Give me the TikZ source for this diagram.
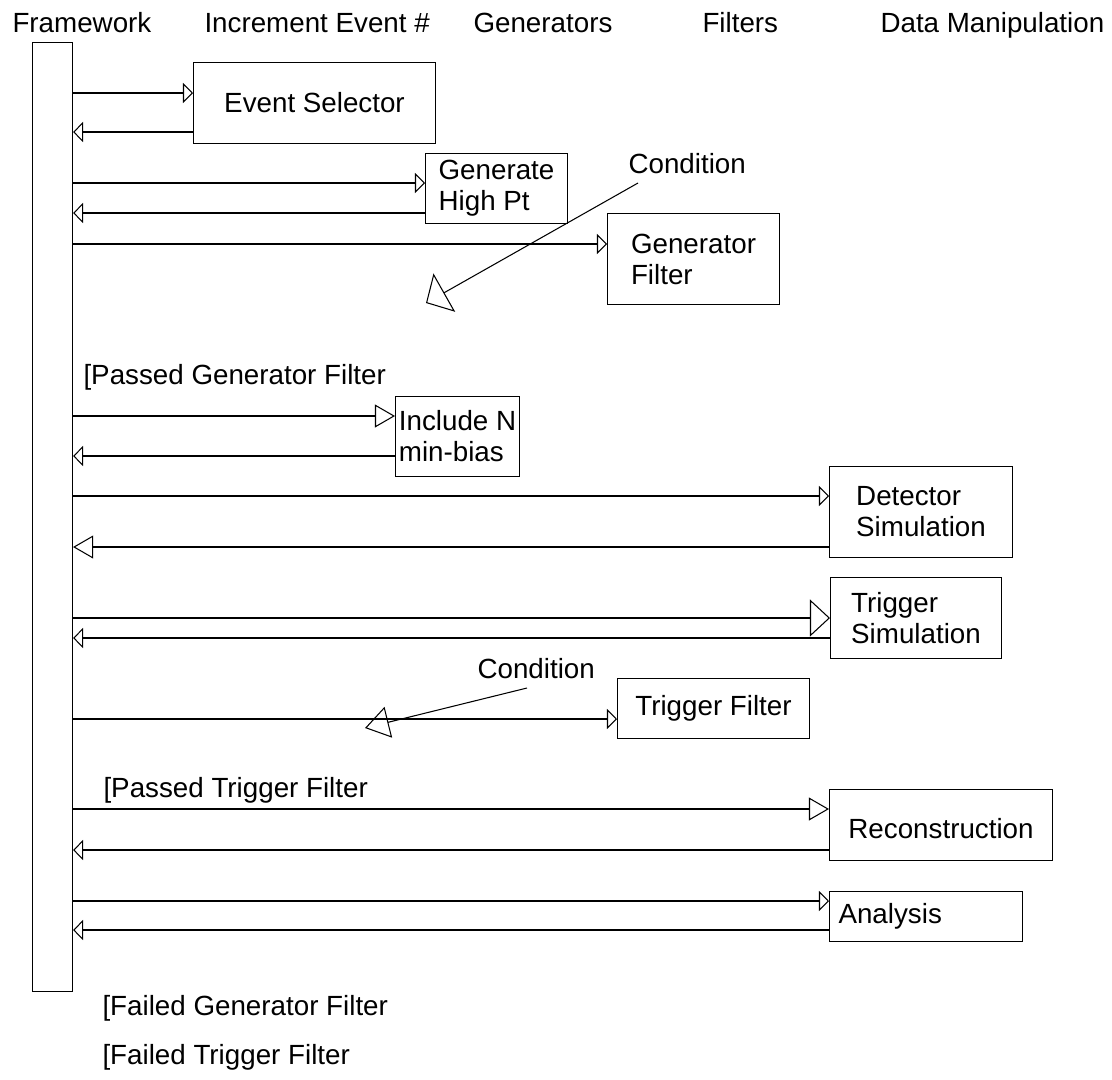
\documentclass[tikz,border=0pt]{standalone}
\usepackage{fontspec}
\setmainfont{Liberation Sans}
\usetikzlibrary{arrows.meta}
\tikzstyle{box} = [draw, anchor=north west, align=left, inner sep=0pt]
\tikzstyle{lbl} = [anchor=base west, inner sep=0pt]
\tikzstyle{line} = [draw, -{Triangle[open, length=5.7pt, width=11.4pt]}]
\tikzstyle{bigline} = [draw, -{Triangle[open, length=11.4pt, width=13pt]}]
\tikzstyle{cond} = [draw, -{Triangle[open, length=12pt, width=25pt]}]

\begin{document}
\begin{tikzpicture}[x=0.02cm, y=-0.02cm, line width=0.6pt,
	every node/.style={font=\fontsize{15.8}{17.6}\selectfont}]
	\useasboundingbox (0,0) rectangle (1112,1079);
	%% Headings
	\node [lbl] (hfw) at (12,32) {Framework};
	\node [lbl] (hinc) at (204,32) {Increment Event \#};
	\node [lbl] (hgen) at (473,32) {Generators};
	\node [lbl] (hfil) at (702,32) {Filters};
	\node [lbl] (hdat) at (880,32) {Data Manipulation};
	%% Framework bar
	\node [draw, anchor=north west, inner sep=0pt, minimum width=0.8cm,
		minimum height=18.98cm] (fw) at (32,42) {};
	%% Steps
	\node [box, minimum width=4.84cm, minimum height=1.62cm] (es) at (193,62) {Event Selector};
	\node [box, minimum width=2.84cm, minimum height=1.4cm] (ghp) at (425,153) {Generate\\High Pt};
	\node [box, minimum width=3.44cm, minimum height=1.82cm] (gf) at (607,213) {Generator\\Filter};
	\node [box, minimum width=2.48cm, minimum height=1.6cm] (inc) at (395,396) {Include N\\min-bias};
	\node [box, minimum width=3.66cm, minimum height=1.82cm] (det) at (829,466) {Detector\\Simulation};
	\node [box, minimum width=3.42cm, minimum height=1.62cm] (tsim) at (830,577) {Trigger\\Simulation};
	\node [box, minimum width=3.84cm, minimum height=1.2cm] (tf) at (617,678) {Trigger Filter};
	\node [box, minimum width=4.46cm, minimum height=1.42cm, text height=16pt] (rec) at (829,789) {Reconstruction};
	\node [box, minimum height=1cm, inner xsep=0.18cm, text width=3.5cm] (ana) at (829,891) {Analysis};
	%% Notes
	\node [lbl] (cnd1) at (628,173) {Condition};
	\node [lbl] (cnd2) at (477,678) {Condition};
	\node [lbl] (pgf) at (83,384) {[Passed Generator Filter};
	\node [lbl] (ptf) at (103,797) {[Passed Trigger Filter};
	\node [lbl] (fgf) at (102,1015) {[Failed Generator Filter};
	\node [lbl] (ftf) at (102,1064) {[Failed Trigger Filter};
	\coordinate (c1s) at (638,183);
	\coordinate (c1e) at (426,303);
	\coordinate (c2s) at (527,688);
	\coordinate (c2e) at (365,728);
	%% Flows
	\path [line] (fw.east |- 0,93) -- (es.west |- 0,93);
	\path [line] (es.west |- 0,132) -- (fw.east |- 0,132);
	\path [line] (fw.east |- 0,183) -- (ghp.west |- 0,183);
	\path [line] (ghp.west |- 0,213) -- (fw.east |- 0,213);
	\path [line] (fw.east |- 0,244) -- (gf.west |- 0,244);
	\path [cond] (c1s) -- (c1e);
	\path [bigline] (fw.east |- 0,416) -- (inc.west |- 0,416);
	\path [line] (inc.west |- 0,456) -- (fw.east |- 0,456);
	\path [line] (fw.east |- 0,496) -- (det.west |- 0,496);
	\path [bigline] (det.west |- 0,547) -- (fw.east |- 0,547);
	\path [bigline, -{Triangle[open, length=11.4pt, width=21pt]}] (fw.east |- 0,618) -- (tsim.west |- 0,618);
	\path [line] (tsim.west |- 0,638) -- (fw.east |- 0,638);
	\path [line] (fw.east |- 0,719) -- (tf.west |- 0,719);
	\path [cond, -{Triangle[open, length=13.7pt, width=18pt]}] (c2s) -- (c2e);
	\path [bigline] (fw.east |- 0,809) -- (rec.west |- 0,809);
	\path [line] (rec.west |- 0,850) -- (fw.east |- 0,850);
	\path [line] (fw.east |- 0,901) -- (ana.west |- 0,901);
	\path [line] (ana.west |- 0,930) -- (fw.east |- 0,930);
\end{tikzpicture}
\end{document}
